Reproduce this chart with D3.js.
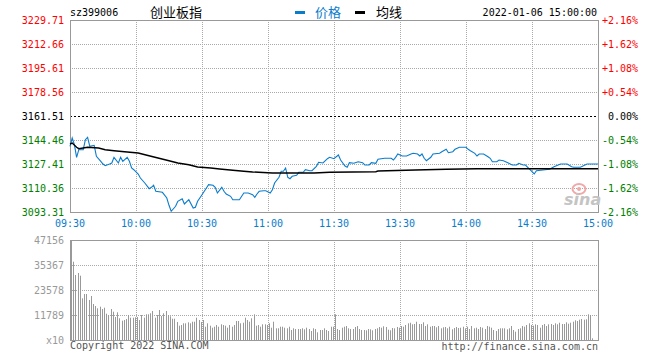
<!DOCTYPE html>
<html><head><meta charset="utf-8">
<script src="https://cdn.jsdelivr.net/npm/d3@7"></script>
<style>body{margin:0;background:#fff}svg{display:block}</style>
</head><body><svg id="c" width="660" height="360"></svg>
<script>
const priceTicks = [3229.71,3212.66,3195.61,3178.56,3161.51,3144.46,3127.41,3110.36,3093.31];
const pctTicks = ["+2.16%","+1.62%","+1.08%","+0.54%","0.00%","-0.54%","-1.08%","-1.62%","-2.16%"];
const timeTicks = [0,30,60,90,120,150,180,210,240];
const timeLabels = ["09:30","10:00","10:30","11:00","11:30","13:30","14:00","14:30","15:00"];
const volTicks = [47156,35367,23578,11789,0];
const volTickLabels = ["47156","35367","23578","11789","x10"];
const prevClose = 3161.51;

const priceMin = [0,1,2,3,4,6,7,8,9,11,12,14,15,16,18,19,20,22,23,24,26,27,28,29,31,32,34,36,37,38,39,42,44,45,46,48,49,51,52,54,56,57,58,60,62,63,65,66,67,69,70,71,73,74,77,79,81,83,84,85,86,88,89,91,92,93,95,96,97,98,99,100,101,103,104,106,107,109,110,112,113,115,117,118,120,122,123,125,126,127,129,131,133,134,136,137,139,140,143,146,147,148,149,151,153,155,156,158,159,160,161,162,164,165,168,169,171,172,174,175,177,178,180,181,182,184,185,186,188,190,191,192,194,195,197,199,201,203,204,206,207,209,210,211,212,215,218,220,223,226,228,229,232,235,240];
const priceVal = [3139.98,3145.88,3141.12,3132.17,3137.57,3137.57,3144.67,3146.38,3139.98,3140.69,3132.88,3129.33,3127.41,3126.20,3127.41,3128.12,3132.17,3128.12,3132.17,3129.33,3132.17,3129.33,3124.57,3123.36,3120.31,3117.46,3113.91,3109.86,3110.86,3112.28,3108.02,3107.31,3103.26,3098.07,3093.81,3097.36,3100.91,3102.76,3098.99,3102.05,3096.15,3096.65,3100.91,3105.60,3110.36,3112.70,3112.28,3110.86,3106.81,3110.86,3108.02,3106.10,3104.46,3102.05,3102.05,3106.81,3106.81,3105.60,3103.75,3106.10,3108.02,3108.44,3108.44,3106.81,3109.15,3113.91,3117.96,3122.22,3122.22,3124.57,3117.96,3116.97,3118.67,3119.38,3121.51,3121.51,3123.36,3122.65,3122.65,3125.78,3128.62,3128.12,3131.18,3132.17,3131.18,3133.80,3130.25,3125.99,3125.07,3128.33,3127.91,3129.04,3128.33,3126.70,3126.70,3128.33,3127.91,3130.75,3131.46,3131.46,3130.25,3132.17,3134.51,3133.09,3133.09,3134.51,3135.01,3134.51,3133.09,3134.51,3131.46,3129.75,3132.17,3134.51,3135.01,3136.15,3137.85,3135.44,3136.15,3137.85,3139.27,3139.27,3139.27,3137.85,3136.86,3135.01,3133.09,3134.51,3134.51,3132.60,3131.46,3129.04,3129.04,3130.25,3129.75,3128.33,3126.70,3126.70,3127.91,3126.70,3126.70,3123.64,3121.94,3120.31,3122.65,3123.15,3123.64,3125.49,3127.41,3127.41,3125.49,3125.07,3125.07,3127.41,3127.41];

const avgMin = [0,1,3,4,8,13,16,20,26,31,35,40,45,49,54,58,64,68,74,79,83,92,111,118,139,140,157,171,185,240];
const avgVal = [3141.62,3142.33,3139.27,3138.28,3139.27,3138.78,3137.57,3136.86,3135.94,3135.22,3133.59,3131.67,3129.75,3128.12,3126.91,3125.28,3124.57,3123.86,3122.93,3122.22,3121.73,3121.02,3121.02,3121.51,3121.94,3122.44,3123.15,3123.64,3124.07,3124.07];

const volume = [47156,36923,30651,31595,30321,19664,21692,21692,18862,20749,16976,16033,14948,15703,14618,15231,12402,11789,14618,13345,10846,13062,10233,9101,9431,9903,11789,10516,10516,10704,10846,9431,11789,10516,12119,12119,12591,13675,10516,11789,14147,11317,12591,13675,11789,11176,10044,10044,8488,6743,7073,7875,7875,8347,7875,8630,8630,10516,9431,8488,9431,6272,7875,6743,5800,6272,7073,6272,7404,7073,6743,5800,7073,6272,7073,8960,8960,7875,8158,10516,9431,8630,10233,12119,6743,7073,6272,7404,7404,7073,7875,5800,8630,5517,5517,6272,6272,5800,5517,6272,4716,5517,5187,5187,5187,5517,5046,5800,5187,4244,5517,5187,3631,4716,4716,5517,4716,4244,6272,6272,12119,5187,4716,5800,6272,6602,5517,5187,5187,6130,6602,5187,4716,4716,4574,5187,5046,4574,5187,5517,6130,5800,6460,6130,4857,4574,5659,5517,6130,5800,6602,6272,7073,7875,8158,7404,7545,8630,7545,7545,8347,6602,7404,6272,6602,6602,5989,6602,5517,5989,6130,5517,6272,5046,5659,6130,5659,5800,6272,5517,6272,5187,6602,5517,5800,5187,6130,5800,5187,6602,6272,5800,4716,4244,5187,5517,5517,5517,5046,5517,6602,4716,3914,5187,5517,6602,6272,7073,7875,7073,6743,7404,7073,5800,7073,7545,6602,7404,7545,7073,7875,7404,8158,7545,7545,8347,7686,8158,8630,9290,8960,9573,9903,9573,9761,12119,11789,802];

const svg = d3.select("#c");
const mono = "'DejaVu Sans Mono', 'Liberation Mono', monospace";
const cjk = "'Noto Sans CJK SC', sans-serif";
const L = 70, R = 598;
const x = d3.scaleLinear().domain([0,240]).range([L,R]);
const y = d3.scaleLinear().domain([3093.31,3229.71]).range([212,20]);
const yv = d3.scaleLinear().domain([0,47156]).range([340,240]);
const crisp = v => Math.round(v) + 0.5;
const GRID = "#aaaaaa", BORDER = "#999999", BLUE = "#0a7ccc";

// ---- price panel grid
const gp = svg.append("g");
priceTicks.forEach((t,i) => {
  if (i === 0 || i === priceTicks.length-1 || t === prevClose) return;
  gp.append("line").attr("x1",L).attr("x2",R).attr("y1",crisp(y(t))).attr("y2",crisp(y(t)))
    .attr("stroke",GRID).attr("stroke-dasharray","1,1");
});
timeTicks.slice(1,-1).forEach(m => {
  gp.append("line").attr("x1",crisp(x(m))).attr("x2",crisp(x(m))).attr("y1",20).attr("y2",212)
    .attr("stroke",GRID).attr("stroke-dasharray","1,1");
});
gp.append("line").attr("x1",L).attr("x2",R).attr("y1",crisp(y(prevClose))).attr("y2",crisp(y(prevClose)))
  .attr("stroke","#000").attr("stroke-dasharray","2,2");
gp.append("rect").attr("x",L+0.5).attr("y",crisp(y(3229.71))).attr("width",R-L).attr("height",Math.round(y(3093.31))-Math.round(y(3229.71)))
  .attr("fill","none").attr("stroke",BORDER);

// watermark
const wm = svg.append("g");
wm.append("ellipse").attr("cx",579).attr("cy",189).attr("rx",6.5).attr("ry",5).attr("fill","none").attr("stroke","#f0a8a8").attr("stroke-width",2);
wm.append("circle").attr("cx",579).attr("cy",189).attr("r",2).attr("fill","#f0a8a8");
wm.append("text").attr("x",564).attr("y",205).attr("font-family","'DejaVu Sans', sans-serif").attr("font-style","italic")
  .attr("font-weight","bold").attr("font-size",16).attr("fill","#c4c4c4").text("sina");

// lines
const pts = priceMin.map((m,i)=>[m,priceVal[i]]);
svg.append("path").datum(pts).attr("fill","none").attr("stroke",BLUE).attr("stroke-width",1.1)
  .attr("d", d3.line().x(d=>x(d[0])).y(d=>y(d[1])));
const apts = avgMin.map((m,i)=>[m,avgVal[i]]);
svg.append("path").datum(apts).attr("fill","none").attr("stroke","#000").attr("stroke-width",1.4)
  .attr("d", d3.line().x(d=>x(d[0])).y(d=>y(d[1])));

// left axis labels
priceTicks.forEach((t,i) => {
  const col = t > prevClose ? "#ff0000" : (t === prevClose ? "#000" : "#008000");
  svg.append("text").attr("x",64).attr("y",y(t)).attr("dy","0.36em").attr("text-anchor","end")
    .attr("font-family",mono).attr("font-size",10).attr("fill",col).text(t.toFixed(2));
  svg.append("text").attr("x",638).attr("y",y(t)).attr("dy","0.36em").attr("text-anchor","end")
    .attr("font-family",mono).attr("font-size",10).attr("fill",col).text(pctTicks[i]);
});
// time labels
timeTicks.forEach((m,i) => {
  svg.append("text").attr("x",x(m)).attr("y",227).attr("text-anchor","middle")
    .attr("font-family",mono).attr("font-size",10).attr("fill",BLUE).text(timeLabels[i]);
});

// header
svg.append("text").attr("x",70).attr("y",16).attr("font-family",mono).attr("font-size",10).attr("fill","#000").text("sz399006");
svg.append("text").attr("x",150).attr("y",17).attr("font-family",cjk).attr("font-size",13).attr("fill","#000").text("创业板指");
svg.append("rect").attr("x",295).attr("y",11).attr("width",10).attr("height",3).attr("fill",BLUE);
svg.append("text").attr("x",315).attr("y",17).attr("font-family",cjk).attr("font-size",13).attr("fill",BLUE).text("价格");
svg.append("rect").attr("x",355).attr("y",11).attr("width",10).attr("height",3).attr("fill","#000");
svg.append("text").attr("x",376).attr("y",17).attr("font-family",cjk).attr("font-size",13).attr("fill","#000").text("均线");
svg.append("text").attr("x",597).attr("y",16).attr("text-anchor","end").attr("font-family",mono).attr("font-size",10).attr("fill","#000").text("2022-01-06 15:00:00");

// ---- volume panel
const gv = svg.append("g");
volTicks.slice(1,-1).forEach(t => {
  gv.append("line").attr("x1",L).attr("x2",R).attr("y1",crisp(yv(t))).attr("y2",crisp(yv(t)))
    .attr("stroke",GRID).attr("stroke-dasharray","1,1");
});
timeTicks.slice(1,-1).forEach(m => {
  gv.append("line").attr("x1",crisp(x(m))).attr("x2",crisp(x(m))).attr("y1",240).attr("y2",340)
    .attr("stroke",GRID).attr("stroke-dasharray","1,1");
});
gv.selectAll("rect.bar").data(volume).enter().append("rect").attr("class","bar")
  .attr("x",(d,i)=>Math.round(x(i))+1).attr("width",1)
  .attr("y",d=>yv(d)).attr("height",d=>340-yv(d)).attr("fill","#999");
gv.append("rect").attr("x",L+0.5).attr("y",crisp(yv(47156))).attr("width",R-L).attr("height",100)
  .attr("fill","none").attr("stroke",BORDER);
volTicks.forEach((t,i) => {
  svg.append("text").attr("x",64).attr("y",yv(t)).attr("dy","0.36em").attr("text-anchor","end")
    .attr("font-family",mono).attr("font-size",10).attr("fill","#999").text(volTickLabels[i]);
});
svg.append("text").attr("x",70).attr("y",349).attr("font-family",mono).attr("font-size",10).attr("fill","#555").text("Copyright 2022 SINA.COM");
svg.append("text").attr("x",598).attr("y",350).attr("text-anchor","end").attr("font-family",mono).attr("font-size",10).attr("fill","#555").text("http://finance.sina.com.cn");
</script></body></html>
